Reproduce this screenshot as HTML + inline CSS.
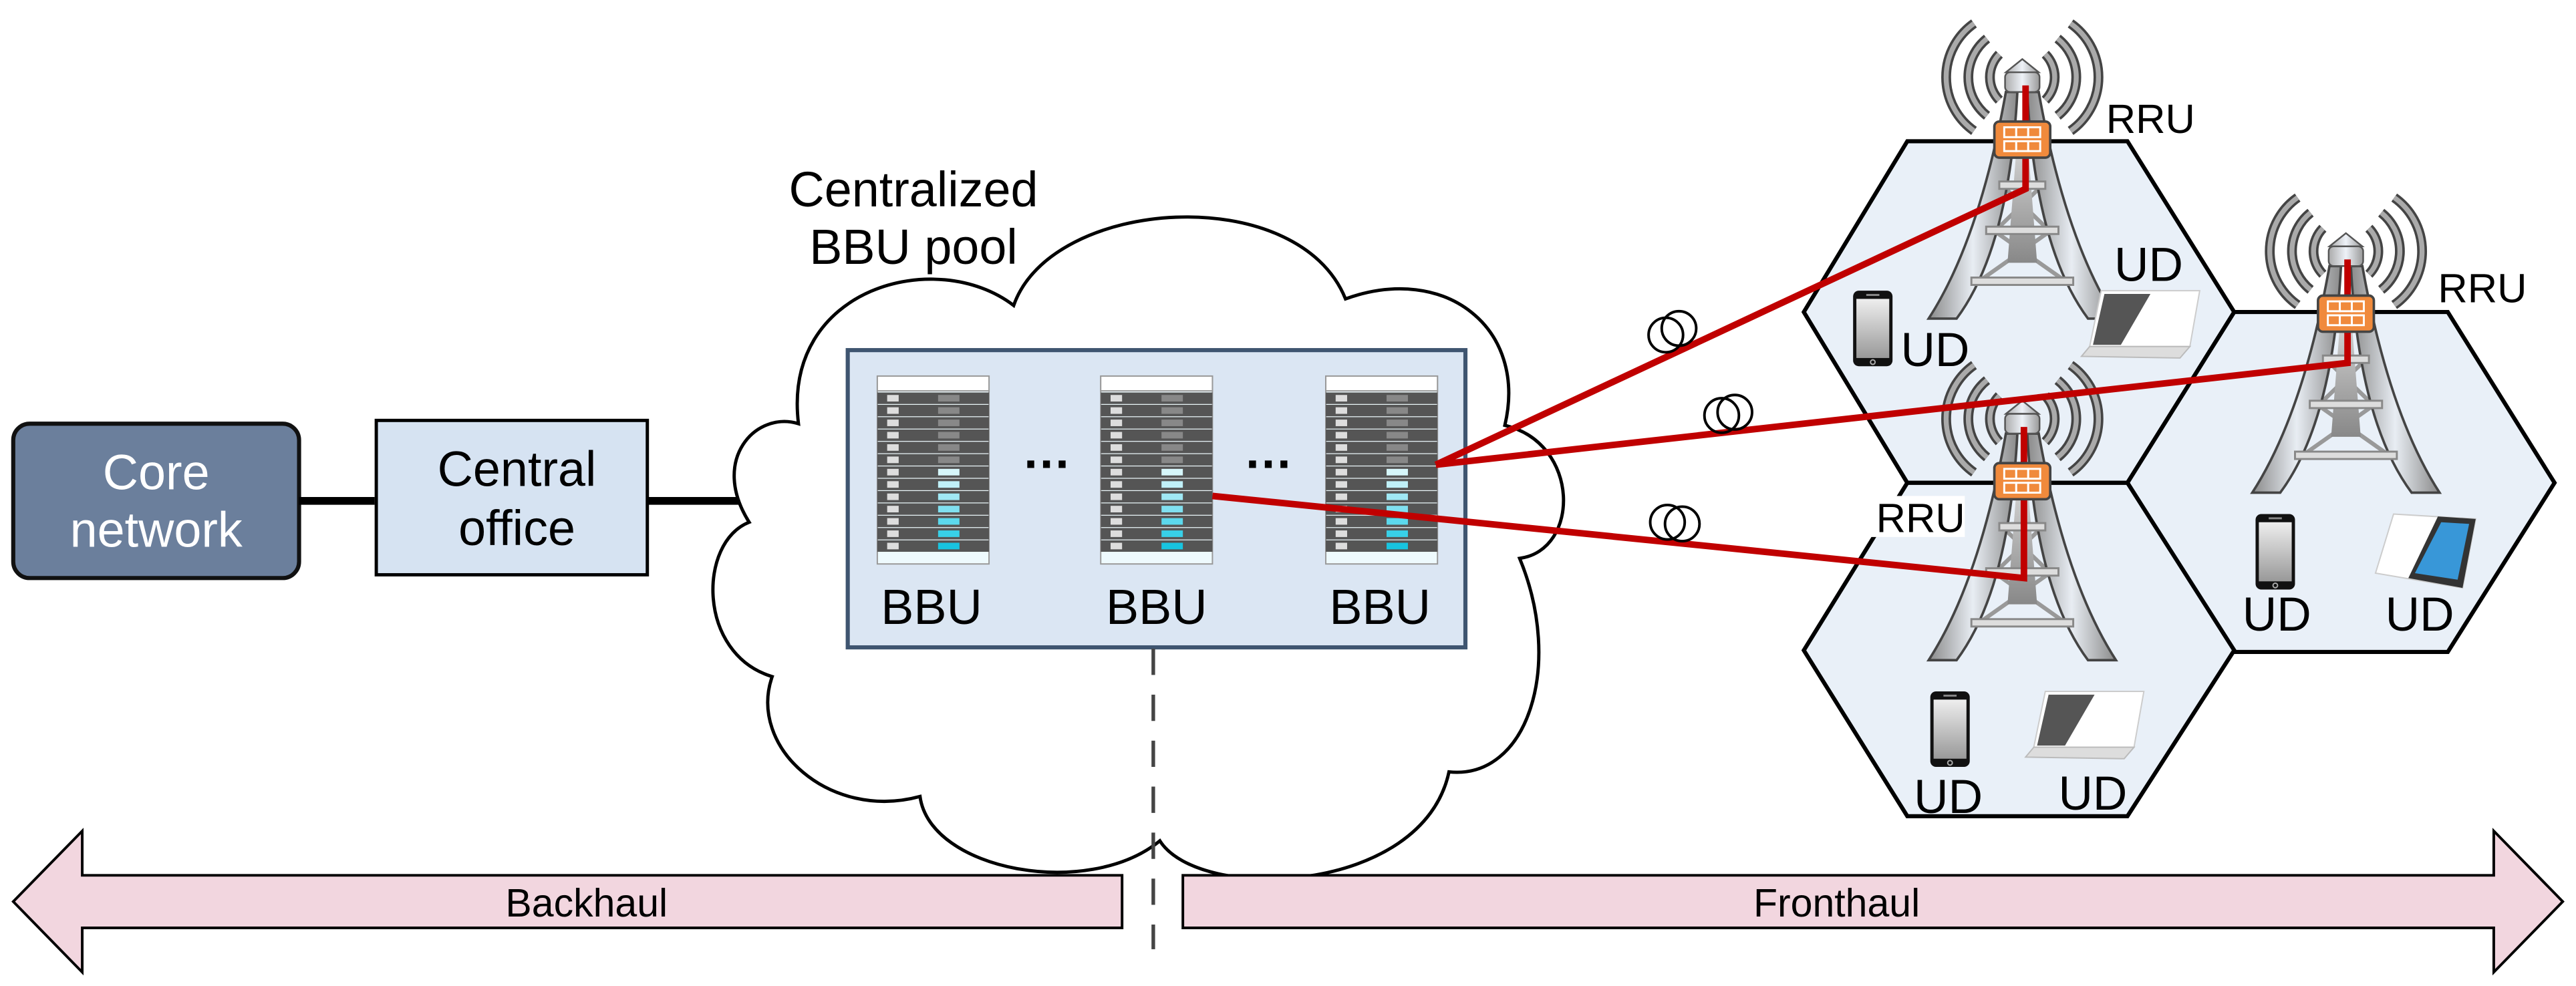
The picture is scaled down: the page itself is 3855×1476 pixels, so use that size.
<!DOCTYPE html>
<html><head><meta charset="utf-8"><style>
html,body{margin:0;padding:0;background:#fff}
svg{display:block}
text{font-family:"Liberation Sans",Arial,sans-serif}
</style></head><body>
<svg width="3855" height="1476" viewBox="0 0 1568 600.4" xmlns="http://www.w3.org/2000/svg">
<defs>
<linearGradient id="leg" x1="0" x2="1"><stop offset="0" stop-color="#8a8a8a"/><stop offset="0.5" stop-color="#e8edf3"/><stop offset="1" stop-color="#8a8a8a"/></linearGradient>
<linearGradient id="pole" x1="0" x2="0" y1="0" y2="1"><stop offset="0" stop-color="#ccc"/><stop offset="1" stop-color="#888"/></linearGradient>
<linearGradient id="head" x1="0" x2="1"><stop offset="0" stop-color="#aaa"/><stop offset="0.5" stop-color="#eef2f8"/><stop offset="1" stop-color="#999"/></linearGradient>
<linearGradient id="ph" x1="0" x2="0" y1="0" y2="1"><stop offset="0" stop-color="#eee"/><stop offset="1" stop-color="#999"/></linearGradient>
<g id="tower">
  <g fill="none" stroke-linecap="butt">
    <g stroke="#444" stroke-width="6">
      <path d="M -29.4 -21.7 A 40 40 0 0 0 -29.4 43.7"/><path d="M 29.4 -21.7 A 40 40 0 0 1 29.4 43.7"/>
      <path d="M -21.5 -12.5 A 30 30 0 0 0 -21.5 34.5"/><path d="M 21.5 -12.5 A 30 30 0 0 1 21.5 34.5"/>
      <path d="M -14 -3 A 20 20 0 0 0 -14 25"/><path d="M 14 -3 A 20 20 0 0 1 14 25"/>
    </g>
    <g stroke="#aaa" stroke-width="3">
      <path d="M -29.4 -21.7 A 40 40 0 0 0 -29.4 43.7"/><path d="M 29.4 -21.7 A 40 40 0 0 1 29.4 43.7"/>
      <path d="M -21.5 -12.5 A 30 30 0 0 0 -21.5 34.5"/><path d="M 21.5 -12.5 A 30 30 0 0 1 21.5 34.5"/>
      <path d="M -14 -3 A 20 20 0 0 0 -14 25"/><path d="M 14 -3 A 20 20 0 0 1 14 25"/>
    </g>
  </g>
  <g stroke="#999" stroke-width="2.5">
    <path d="M -11 78 L 16 104 M 11 78 L -16 104 M -18 104 L 26 135 M 18 104 L -26 135"/>
  </g>
  <!-- legs -->
  <path d="M -10 20 L -3 20 Q -8 115 -40 158 L -57 158 Q -26 110 -10 20 Z" fill="url(#leg)" stroke="#444" stroke-width="1.5"/>
  <path d="M 10 20 L 3 20 Q 8 115 40 158 L 57 158 Q 26 110 10 20 Z" fill="url(#leg)" stroke="#444" stroke-width="1.5"/>
  <path d="M -4 60 L 4 60 L 9 124 L -9 124 Z" fill="url(#pole)"/>
  <g fill="#ddd" stroke="#888" stroke-width="1.2">
    <rect x="-14" y="74.5" width="28" height="4.5"/>
    <rect x="-22" y="102" width="44" height="4.5"/>
    <rect x="-31" y="133" width="62" height="4.5"/>
  </g>
  <!-- head -->
  <path d="M -10 8 L 0 0 L 10 8 Z" fill="url(#head)" stroke="#555" stroke-width="1"/>
  <rect x="-10.5" y="8" width="21" height="12" rx="3" fill="url(#head)" stroke="#555" stroke-width="1"/>
</g>
<g id="rrubox">
  <rect x="-17" y="0" width="34" height="22" rx="3" fill="#f08a3c" stroke="#444" stroke-width="1.5"/>
  <g fill="#f08a3c" stroke="#fff" stroke-width="1.2">
    <rect x="-11" y="3.5" width="7.3" height="6"/><rect x="-3.7" y="3.5" width="7.3" height="6"/><rect x="3.6" y="3.5" width="7.3" height="6"/>
    <rect x="-11" y="12" width="7.3" height="6"/><rect x="-3.7" y="12" width="7.3" height="6"/><rect x="3.6" y="12" width="7.3" height="6"/>
  </g>
</g>
<g id="phone">
  <rect x="0" y="0" width="24" height="46" rx="3.5" fill="#111"/>
  <rect x="2" y="5" width="20" height="36" fill="url(#ph)"/>
  <circle cx="12" cy="43.5" r="1.4" fill="none" stroke="#aaa" stroke-width="0.8"/>
  <rect x="8" y="2" width="8" height="1.2" fill="#888"/>
</g>
<g id="laptop">
  <path d="M 12 0 L 72 0 L 66 34 L 5 34 Z" fill="#fff" stroke="#ccc" stroke-width="0.8"/>
  <path d="M 14 2 L 42 2 L 24 33 L 7 33 Z" fill="#555"/>
  <path d="M 5 34 L 66 34 L 60 41 L 0 40 Z" fill="#ddd" stroke="#bbb" stroke-width="0.8"/>
</g>
<g id="rack">
  <rect x="0" y="0" width="68" height="114.4" fill="#eefafd" stroke="#999" stroke-width="0.8"/>
  <rect x="0" y="0" width="68" height="9" fill="#fff" stroke="#999" stroke-width="0.8"/>
</g>
</defs>

<!-- Core network -->
<rect x="8" y="258" width="174" height="94" rx="10" fill="#6b7f9c" stroke="#111" stroke-width="2.5"/>
<text x="95" y="298" font-size="30" fill="#fff" text-anchor="middle">Core</text>
<text x="95" y="333" font-size="30" fill="#fff" text-anchor="middle">network</text>
<line x1="182" y1="305" x2="228" y2="305" stroke="#000" stroke-width="4.7"/>
<rect x="229" y="256" width="165" height="94" fill="#d6e3f2" stroke="#000" stroke-width="2"/>
<text x="314.6" y="296" font-size="30" text-anchor="middle">Central</text>
<text x="314.6" y="332" font-size="30" text-anchor="middle">office</text>
<line x1="394" y1="305" x2="516" y2="305" stroke="#000" stroke-width="4.7"/>

<!-- cloud -->
<path d="M 486 258 C 476 175 570 150 617 186 C 640 120 790 110 819 182 C 880 160 930 200 916 259 C 962 270 962 335 925 340 C 952 405 930 475 882 470 C 866 545 730 550 706 512 C 662 548 566 530 560 485 C 505 500 455 455 470 412 C 424 398 425 330 456 318 C 432 280 460 250 486 258 Z" fill="#fff" stroke="#000" stroke-width="2"/>
<text x="556" y="125.7" font-size="30" text-anchor="middle">Centralized</text>
<text x="556" y="160.7" font-size="30" text-anchor="middle">BBU pool</text>

<!-- BBU box -->
<rect x="516" y="213.2" width="376" height="181" fill="#dbe6f3" stroke="#3f5570" stroke-width="2.5"/>
<use href="#rack" x="534" y="229"/><use href="#rack" x="670" y="229"/><use href="#rack" x="807" y="229"/>
<g>
<g id="slots1" transform="translate(534,239)">
<rect x="0" y="0" width="68" height="7" fill="#555"/><rect x="0" y="7.5" width="68" height="7" fill="#555"/><rect x="0" y="15" width="68" height="7" fill="#555"/><rect x="0" y="22.5" width="68" height="7" fill="#555"/><rect x="0" y="30" width="68" height="7" fill="#555"/><rect x="0" y="37.5" width="68" height="7" fill="#555"/><rect x="0" y="45" width="68" height="7" fill="#555"/><rect x="0" y="52.5" width="68" height="7" fill="#555"/><rect x="0" y="60" width="68" height="7" fill="#555"/><rect x="0" y="67.5" width="68" height="7" fill="#555"/><rect x="0" y="75" width="68" height="7" fill="#555"/><rect x="0" y="82.5" width="68" height="7" fill="#555"/><rect x="0" y="90" width="68" height="7" fill="#555"/>
<g fill="#ddd"><rect x="6" y="1.5" width="7" height="4"/><rect x="6" y="9" width="7" height="4"/><rect x="6" y="16.5" width="7" height="4"/><rect x="6" y="24" width="7" height="4"/><rect x="6" y="31.5" width="7" height="4"/><rect x="6" y="39" width="7" height="4"/><rect x="6" y="46.5" width="7" height="4"/><rect x="6" y="54" width="7" height="4"/><rect x="6" y="61.5" width="7" height="4"/><rect x="6" y="69" width="7" height="4"/><rect x="6" y="76.5" width="7" height="4"/><rect x="6" y="84" width="7" height="4"/><rect x="6" y="91.5" width="7" height="4"/></g>
<rect x="37" y="1.5" width="13" height="4" fill="#888"/><rect x="37" y="9" width="13" height="4" fill="#888"/><rect x="37" y="16.5" width="13" height="4" fill="#888"/><rect x="37" y="24" width="13" height="4" fill="#888"/><rect x="37" y="31.5" width="13" height="4" fill="#888"/><rect x="37" y="39" width="13" height="4" fill="#888"/><rect x="37" y="46.5" width="13" height="4" fill="#d6f6fa"/><rect x="37" y="54" width="13" height="4" fill="#c0f0f8"/><rect x="37" y="61.5" width="13" height="4" fill="#a0e8f4"/><rect x="37" y="69" width="13" height="4" fill="#80e0f0"/><rect x="37" y="76.5" width="13" height="4" fill="#5cd8ec"/><rect x="37" y="84" width="13" height="4" fill="#38d0e8"/><rect x="37" y="91.5" width="13" height="4" fill="#18c4e0"/>
</g>
<use href="#slots1" x="136" y="0"/>
<use href="#slots1" x="273" y="0"/>
</g>
<text x="637" y="285" font-size="30" font-weight="bold" text-anchor="middle">…</text>
<text x="772" y="285" font-size="30" font-weight="bold" text-anchor="middle">…</text>
<text x="567" y="380" font-size="30" text-anchor="middle">BBU</text>
<text x="704" y="380" font-size="30" text-anchor="middle">BBU</text>
<text x="840" y="380" font-size="30" text-anchor="middle">BBU</text>

<!-- dashed divider -->
<line x1="702" y1="395" x2="702" y2="578" stroke="#444" stroke-width="2.2" stroke-dasharray="16,12"/>

<!-- hexagons -->
<g fill="#e9f0f8" stroke="#000" stroke-width="2.5" stroke-linejoin="miter">
<polygon points="1098,190 1161,86 1295,86 1360,190 1295,294 1161,294"/>
<polygon points="1295,294 1360,190 1490,190 1555,294 1490,397 1360,397"/>
<polygon points="1098,396 1161,294 1295,294 1360,396 1295,497 1161,497"/>
</g>

<!-- towers -->
<use href="#tower" x="1231" y="36"/>
<use href="#tower" x="1428" y="142"/>
<use href="#tower" x="1231" y="244"/>

<!-- red links -->
<g stroke="#c00000" stroke-width="4" fill="none" stroke-linejoin="miter">
<polyline points="874,283 1233,115 1233,52"/>
<polyline points="874,283 1429,221 1429,158"/>
<polyline points="738,302 1232,352 1232,260"/>
</g>
<use href="#rrubox" x="1231" y="74"/>
<use href="#rrubox" x="1428" y="180"/>
<use href="#rrubox" x="1231" y="282"/>

<!-- coils -->
<g fill="none" stroke="#000" stroke-width="1.6">
<circle cx="1014" cy="204" r="10.5"/><circle cx="1022" cy="200" r="10.5"/>
<circle cx="1048" cy="253" r="10.5"/><circle cx="1056" cy="251" r="10.5"/>
<circle cx="1015" cy="318" r="10.5"/><circle cx="1024" cy="319" r="10.5"/>
</g>

<!-- labels -->
<text x="1282" y="81" font-size="25">RRU</text>
<text x="1484" y="184" font-size="25">RRU</text>
<rect x="1138" y="302" width="58" height="25" fill="#fff"/>
<text x="1142" y="324" font-size="25">RRU</text>

<!-- devices -->
<use href="#phone" x="1128" y="177"/>
<use href="#laptop" x="1267" y="177"/>
<use href="#phone" x="1373" y="313"/>
<g transform="translate(1446,313)">
  <path d="M 11 0 L 61 3 L 53 45 L 0 36 Z" fill="#fff" stroke="#ccc" stroke-width="0.8"/>
  <path d="M 38 1.5 L 61 3 L 53 45 L 20 39 Z" fill="#333"/>
  <path d="M 40 5 L 57 6 L 50 40 L 24 36 Z" fill="#3897d8"/>
</g>
<use href="#phone" x="1175" y="421"/>
<use href="#laptop" x="1233" y="421"/>

<g font-size="29">
<text x="1157" y="223">UD</text>
<text x="1287" y="171">UD</text>
<text x="1365" y="384">UD</text>
<text x="1452" y="384">UD</text>
<text x="1165" y="495">UD</text>
<text x="1253" y="493">UD</text>
</g>

<!-- arrows -->
<polygon points="8,549 50,506 50,533 683,533 683,565 50,565 50,592" fill="#f2d6df" stroke="#000" stroke-width="1.6"/>
<polygon points="720,533 1518,533 1518,506 1560,549 1518,592 1518,565 720,565" fill="#f2d6df" stroke="#000" stroke-width="1.6"/>
<text x="357" y="558" font-size="24" text-anchor="middle">Backhaul</text>
<text x="1118" y="558" font-size="24" text-anchor="middle">Fronthaul</text>
</svg>
</body></html>
